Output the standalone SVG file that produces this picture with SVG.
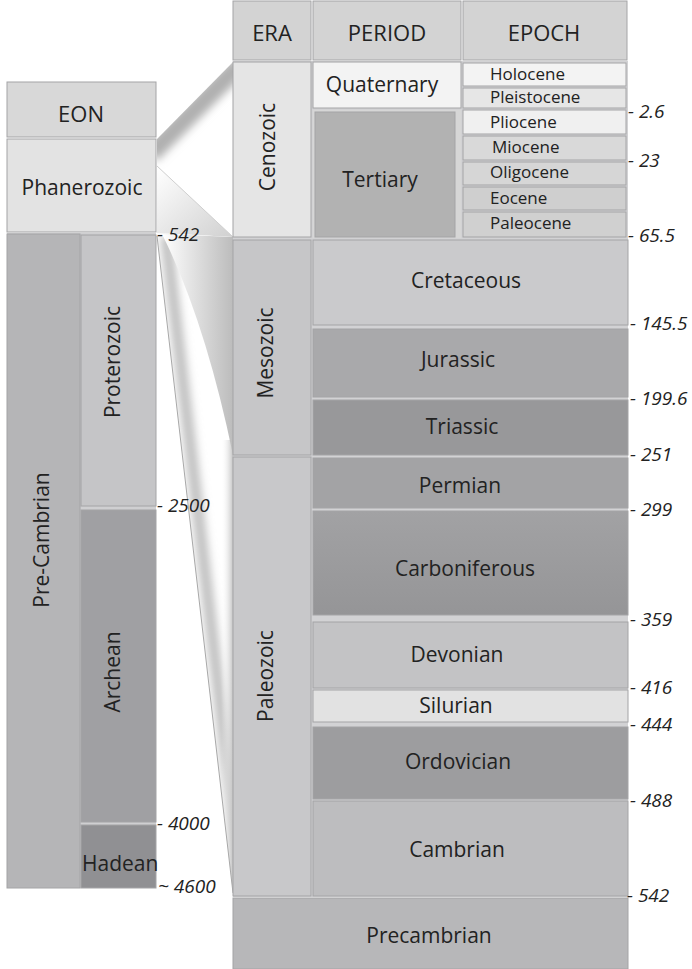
<svg xmlns="http://www.w3.org/2000/svg" width="692" height="969" viewBox="0 0 692 969">
<style>
text{font-family:"Open Sans","Noto Sans","Liberation Sans",sans-serif;fill:#222222}
.h{font-size:22px;text-anchor:middle}
.t{font-size:21px;text-anchor:middle}
.e{font-size:17px}
.n{font-size:19px;font-style:italic}
.b{stroke:#a4a4a6;stroke-width:1}
</style>
<defs>
<filter id="blur" x="-50%" y="-50%" width="200%" height="200%"><feGaussianBlur stdDeviation="4"/></filter>
<linearGradient id="g1" x1="0" y1="0" x2="1" y2="0"><stop offset="0" stop-color="#ffffff"/><stop offset="1" stop-color="#bcbcbc"/></linearGradient>
<linearGradient id="g2" x1="0" y1="0" x2="1" y2="0"><stop offset="0" stop-color="#ffffff" stop-opacity="0"/><stop offset="1" stop-color="#c4c4c4"/></linearGradient>
<linearGradient id="g3" x1="0" y1="0" x2="1" y2="1"><stop offset="0" stop-color="#ffffff"/><stop offset="1" stop-color="#d0d0d0"/></linearGradient>
<linearGradient id="carb" x1="0" y1="0" x2="0" y2="1"><stop offset="0" stop-color="#a2a2a4"/><stop offset="1" stop-color="#959597"/></linearGradient>
<clipPath id="cu"><polygon points="157,139 233,62 233,237 157,166"/></clipPath>
<clipPath id="cf"><polygon points="157,236 233,893 233,237 157,233"/></clipPath>
</defs>

<g id="connectors">
  <polygon points="157,139 233,62 233,237 157,166" fill="#ffffff"/>
  <g clip-path="url(#cu)">
    <line x1="150" y1="154" x2="240" y2="64" stroke="#b0b0b0" stroke-width="20" filter="url(#blur)"/>
  </g>
  <polygon points="157,166 233,237 157,233" fill="url(#g3)"/>
  <line x1="157" y1="166" x2="233" y2="237" stroke="#cfcfcf" stroke-width="1"/>
  <polygon points="157,236 233,893 233,237 157,233" fill="#ffffff"/>
  <g clip-path="url(#cf)">
    <line x1="166" y1="236" x2="242" y2="893" stroke="#c0c0c0" stroke-width="12" filter="url(#blur)"/>
    <rect x="221" y="440" width="12" height="460" fill="url(#g2)"/>
  </g>
  <path d="M162,234 Q205,320 233,455 L233,237 Z" fill="url(#g1)"/>
  <line x1="157" y1="236" x2="233" y2="893" stroke="#a8a8a8" stroke-width="1"/>
</g>

<g id="backgrounds">
  <rect x="7" y="233" width="149" height="655" fill="#cfcfd1"/>
  <rect x="233" y="61" width="395" height="836" fill="#d2d2d4"/>
</g>

<g id="eon-header"><rect class="b" x="7" y="82" width="149" height="55" fill="#d8d8d8"/><text class="h" x="81" y="122">EON</text></g>
<g id="phanerozoic"><rect class="b" x="7" y="139" width="149" height="93" fill="#e3e3e3"/><text class="t" x="82" y="195">Phanerozoic</text></g>
<g id="pre-cambrian"><rect class="b" x="7" y="234" width="73" height="654" fill="#b5b5b7"/><text class="t" transform="translate(49,540) rotate(-90)">Pre-Cambrian</text></g>
<g id="proterozoic"><rect class="b" x="81" y="235" width="75" height="271" fill="#c5c5c7"/><text class="t" transform="translate(120,362) rotate(-90)">Proterozoic</text></g>
<g id="archean"><rect class="b" x="81" y="510" width="75" height="312" fill="#a0a0a3"/><text class="t" transform="translate(120,672) rotate(-90)">Archean</text></g>
<g id="hadean"><rect class="b" x="81" y="825" width="75" height="63" fill="#909093"/><text style="font-size:21px" x="82" y="871">Hadean</text></g>

<g id="left-ages">
  <text class="n" x="157" y="241">- 542</text>
  <text class="n" x="157" y="512">- 2500</text>
  <text class="n" x="157" y="830">- 4000</text>
  <text class="n" x="158" y="893">~ 4600</text>
</g>

<g id="era-header"><rect class="b" x="233" y="1" width="78" height="59" fill="#d3d3d3"/><text class="h" x="272" y="41">ERA</text></g>
<g id="period-header"><rect class="b" x="313" y="1" width="148" height="59" fill="#d3d3d3"/><text class="h" x="387" y="41">PERIOD</text></g>
<g id="epoch-header"><rect class="b" x="463" y="1" width="164" height="59" fill="#d3d3d3"/><text class="h" x="544" y="41">EPOCH</text></g>

<g id="cenozoic"><rect class="b" x="233" y="62" width="78" height="175" fill="#e5e5e5"/><text class="t" transform="translate(275,147) rotate(-90)">Cenozoic</text></g>
<g id="quaternary"><rect class="b" x="313" y="62" width="148" height="46" fill="#f3f3f3"/><text class="t" x="382" y="92">Quaternary</text></g>
<g id="tertiary"><rect x="313" y="110" width="148" height="128" fill="#d6d6d6"/><rect class="b" x="315" y="112" width="140" height="125" fill="#b2b2b2"/><text class="t" x="380" y="187">Tertiary</text></g>

<g id="holocene"><rect class="b" x="463" y="63" width="163" height="23" fill="#f3f3f3"/><text class="e" x="490" y="80">Holocene</text></g>
<g id="pleistocene"><rect class="b" x="463" y="88" width="163" height="20" fill="#e6e6e6"/><text class="e" x="490" y="103">Pleistocene</text></g>
<g id="pliocene"><rect class="b" x="463" y="110" width="163" height="24" fill="#f0f0f0"/><text class="e" x="490" y="128">Pliocene</text></g>
<g id="miocene"><rect class="b" x="463" y="136" width="163" height="24" fill="#d9d9d9"/><text class="e" x="492" y="153">Miocene</text></g>
<g id="oligocene"><rect class="b" x="463" y="162" width="163" height="23" fill="#d6d6d6"/><text class="e" x="490" y="178">Oligocene</text></g>
<g id="eocene"><rect class="b" x="463" y="187" width="163" height="23" fill="#cfcfcf"/><text class="e" x="490" y="204">Eocene</text></g>
<g id="paleocene"><rect class="b" x="463" y="212" width="163" height="25" fill="#d0d0d0"/><text class="e" x="490" y="229">Paleocene</text></g>

<g id="mesozoic"><rect class="b" x="233" y="240" width="78" height="215" fill="#c6c6c8"/><text class="t" transform="translate(273,353) rotate(-90)">Mesozoic</text></g>
<g id="paleozoic"><rect class="b" x="233" y="457" width="78" height="439" fill="#c8c8ca"/><text class="t" transform="translate(273,676) rotate(-90)">Paleozoic</text></g>

<g id="cretaceous"><rect class="b" x="313" y="240" width="315" height="85" fill="#cacacc"/><text class="t" x="466" y="288">Cretaceous</text></g>
<g id="jurassic"><rect class="b" x="313" y="329" width="315" height="68" fill="#a9a9ab"/><text class="t" x="458" y="367">Jurassic</text></g>
<g id="triassic"><rect class="b" x="313" y="400" width="315" height="55" fill="#98989a"/><text class="t" x="462" y="434">Triassic</text></g>
<g id="permian"><rect class="b" x="313" y="458" width="315" height="50" fill="#a3a3a5"/><text class="t" x="460" y="493">Permian</text></g>
<g id="carboniferous"><rect class="b" x="313" y="511" width="315" height="104" fill="url(#carb)"/><text class="t" x="465" y="576">Carboniferous</text></g>
<g id="devonian"><rect class="b" x="313" y="622" width="315" height="66" fill="#c3c3c5"/><text class="t" x="457" y="662">Devonian</text></g>
<g id="silurian"><rect class="b" x="313" y="690" width="315" height="32" fill="#e2e2e2"/><text class="t" x="456" y="713">Silurian</text></g>
<g id="ordovician"><rect class="b" x="313" y="727" width="315" height="72" fill="#9d9d9f"/><text class="t" x="458" y="769">Ordovician</text></g>
<g id="cambrian"><rect class="b" x="313" y="801" width="315" height="95" fill="#bdbdbf"/><text class="t" x="457" y="857">Cambrian</text></g>
<g id="precambrian"><rect class="b" x="233" y="898" width="395" height="71" fill="#b7b7b9"/><text class="t" x="429" y="943">Precambrian</text></g>

<g id="right-ages">
  <text class="n" x="628" y="118">- 2.6</text>
  <text class="n" x="628" y="167">- 23</text>
  <text class="n" x="628" y="242">- 65.5</text>
  <text class="n" x="630" y="330">- 145.5</text>
  <text class="n" x="630" y="405">- 199.6</text>
  <text class="n" x="630" y="461">- 251</text>
  <text class="n" x="630" y="516">- 299</text>
  <text class="n" x="630" y="626">- 359</text>
  <text class="n" x="630" y="694">- 416</text>
  <text class="n" x="630" y="731">- 444</text>
  <text class="n" x="630" y="807">- 488</text>
  <text class="n" x="627" y="902">- 542</text>
</g>
</svg>
